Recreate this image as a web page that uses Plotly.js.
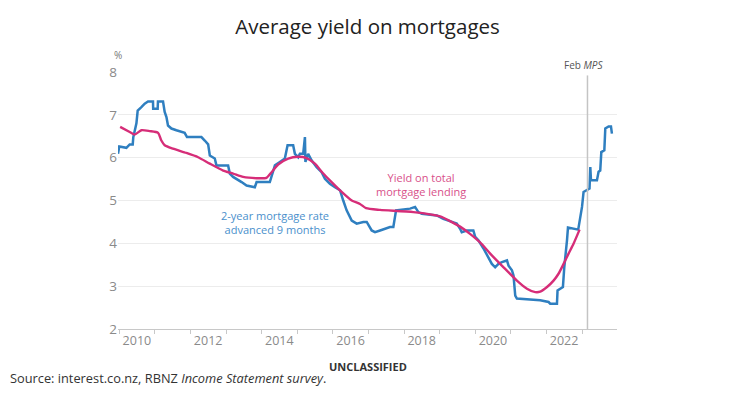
<!DOCTYPE html>
<html>
<head>
<meta charset="utf-8">
<script src="https://cdn.plot.ly/plotly-3.0.1.min.js"></script>
<style>
  html, body { margin: 0; padding: 0; background: #ffffff; }
  #chart { width: 739px; height: 397px; }
</style>
</head>
<body>
<div id="chart"></div>
<script>
// 2-year mortgage rate advanced 9 months (%)
const rateDates = ["2009-12-19","2010-01-01","2010-03-15","2010-04-18","2010-05-19","2010-05-25","2010-06-26","2010-07-09","2010-08-16","2010-09-19",
  "2010-10-23","2010-12-13","2010-12-15","2011-01-30","2011-02-02","2011-03-26","2011-04-12","2011-04-30","2011-05-16","2011-06-20",
  "2011-08-10","2011-11-03","2011-11-27","2012-04-23","2012-05-27","2012-07-01","2012-07-18","2012-09-07","2012-09-24","2013-01-22",
  "2013-02-08","2013-03-14","2013-06-09","2013-07-30","2013-10-23","2013-11-10","2014-03-26","2014-04-29","2014-05-17","2014-07-07",
  "2014-08-27","2014-09-24","2014-11-20","2014-12-08","2015-01-11","2015-01-28","2015-03-03","2015-03-21","2015-03-26","2015-04-23",
  "2015-05-28","2015-07-19","2015-09-08","2015-10-12","2015-12-02","2016-01-23","2016-03-15","2016-04-17","2016-05-22","2016-07-13",
  "2016-09-02","2016-11-09","2016-12-14","2017-02-03","2017-03-09","2017-04-30","2017-08-10","2017-09-13","2017-10-11","2018-03-04",
  "2018-04-24","2018-05-28","2018-07-02","2018-12-03","2019-02-08","2019-04-01","2019-06-26","2019-07-30","2019-08-16","2019-10-07",
  "2019-12-13","2020-01-01","2020-02-03","2020-03-26","2020-05-17","2020-06-20","2020-07-24","2020-08-27","2020-10-01","2020-11-22",
  "2020-12-08","2021-01-12","2021-01-28","2021-02-15","2021-03-04","2021-07-19","2021-10-29","2022-01-23","2022-02-09","2022-04-19",
  "2022-04-25","2022-06-19","2022-07-03","2022-07-31","2022-08-10","2022-11-23","2022-12-14","2023-01-01","2023-01-17","2023-02-21",
  "2023-03-19","2023-03-27","2023-04-03","2023-06-03","2023-06-20","2023-07-07","2023-07-18","2023-08-18","2023-08-28","2023-10-01",
  "2023-10-25","2023-11-04"];
const rateValues = [6.09,6.26,6.23,6.31,6.31,6.48,6.80,7.10,7.18,7.26,
  7.31,7.31,7.14,7.14,7.31,7.31,7.07,6.95,6.75,6.68,
  6.64,6.58,6.48,6.48,6.40,6.31,6.05,5.98,5.82,5.82,
  5.63,5.55,5.43,5.35,5.31,5.43,5.43,5.66,5.82,5.90,
  5.98,6.29,6.29,6.09,6.01,6.09,6.09,6.48,5.90,6.09,
  5.94,5.78,5.66,5.51,5.39,5.31,5.24,5.00,4.77,4.53,
  4.46,4.50,4.50,4.30,4.26,4.30,4.38,4.38,4.77,4.81,
  4.85,4.73,4.69,4.65,4.57,4.53,4.46,4.34,4.26,4.30,
  4.30,4.15,4.07,3.88,3.68,3.52,3.44,3.52,3.56,3.60,
  3.48,3.37,3.25,2.78,2.71,2.68,2.67,2.63,2.59,2.59,
  2.90,2.98,3.44,4.07,4.37,4.32,4.62,4.85,5.20,5.25,
  5.28,5.78,5.47,5.47,5.67,5.70,6.13,6.17,6.68,6.73,
  6.73,6.56];

// Yield on total mortgage lending (%)
const yieldDates = ["2010-01-10","2010-04-18","2010-06-08","2010-08-16","2010-11-09","2011-02-03","2011-03-09","2011-04-12","2011-07-06","2011-11-21",
  "2012-03-20","2012-07-18","2012-12-02","2013-03-14","2013-06-25","2013-11-10","2014-02-20","2014-04-13","2014-06-19","2014-09-30",
  "2015-01-11","2015-04-07","2015-07-01","2015-09-25","2015-12-20","2016-04-01","2016-07-13","2016-10-06","2016-12-07","2017-04-30",
  "2018-04-07","2019-01-06","2019-04-18","2019-07-30","2019-11-09","2020-02-20","2020-06-03","2020-10-18","2021-03-04","2021-06-15",
  "2021-09-08","2021-10-29","2022-01-07","2022-03-15","2022-05-05","2022-06-26","2022-08-16","2022-10-06","2022-12-07"];
const yieldValues = [6.72,6.60,6.54,6.64,6.62,6.58,6.40,6.29,6.21,6.11,
  6.01,5.86,5.70,5.63,5.55,5.52,5.53,5.66,5.84,5.98,
  6.02,5.99,5.86,5.63,5.43,5.20,5.00,4.92,4.82,4.78,
  4.73,4.63,4.52,4.39,4.22,4.02,3.76,3.44,3.13,2.94,
  2.86,2.87,2.98,3.13,3.29,3.52,3.76,3.99,4.32];

// x tick labels (centred in each labelled year)
const xTickVals = ["2010-07-01","2012-07-01","2014-07-01","2016-07-01","2018-07-01","2020-07-01","2022-07-01"];
const xTickText = ["2010","2012","2014","2016","2018","2020","2022"];
const yTickVals = [2,3,4,5,6,7,8];

const mpsDate = "2023-02-26";

const BLUE = "#2f7fc0";
const MAGENTA = "#d62d78";
const FONT = "Open Sans, Noto Sans, DejaVu Sans, sans-serif";

const traces = [
  { x: rateDates, y: rateValues, type: "scatter", mode: "lines",
    line: { color: BLUE, width: 2.5 }, hoverinfo: "skip", name: "2-year mortgage rate advanced 9 months" },
  { x: yieldDates, y: yieldValues, type: "scatter", mode: "lines",
    line: { color: MAGENTA, width: 2.4, shape: "spline", smoothing: 0.6 }, hoverinfo: "skip", name: "Yield on total mortgage lending" }
];

const layout = {
  width: 739, height: 397,
  margin: { l: 118, r: 122, t: 72, b: 68 },
  paper_bgcolor: "#ffffff", plot_bgcolor: "#ffffff",
  showlegend: false,
  font: { family: FONT, color: "#333" },
  title: { text: "Average yield on mortgages", x: 0.5, xref: "paper", xanchor: "center",
           y: 0.932, yref: "container", yanchor: "middle",
           font: { family: FONT, size: 20.5, color: "#222" } },
  xaxis: {
    type: "date",
    range: ["2009-12-19", "2023-12-26"],
    tickmode: "array", tickvals: xTickVals, ticktext: xTickText,
    ticks: "", showgrid: false, zeroline: false,
    showline: true, linecolor: "#c8c8c8", linewidth: 1,
    tickfont: { family: FONT, size: 12.5, color: "#8a8a8a" },
    minor: { dtick: "M12", tick0: "2010-01-01", ticks: "outside", ticklen: 4, tickcolor: "#c8c8c8", tickwidth: 1, showgrid: false },
    fixedrange: true
  },
  yaxis: {
    range: [2, 8], tickmode: "array", tickvals: yTickVals,
    showgrid: true, gridcolor: "#ececec", gridwidth: 1,
    zeroline: false, showline: false, ticks: "",
    tickfont: { family: FONT, size: 13.5, color: "#8a8a8a" },
    fixedrange: true
  },
  shapes: [
    { type: "line", xref: "x", yref: "y", x0: mpsDate, x1: mpsDate, y0: 2, y1: 7.92,
      line: { color: "#c4c4c4", width: 1.5 } }
  ],
  annotations: [
    { text: "%", xref: "paper", yref: "paper", x: 0, y: 1, xanchor: "center", yanchor: "bottom",
      yshift: 8, showarrow: false, font: { family: FONT, size: 10, color: "#777" } },
    { text: "Feb <i>MPS</i>", xref: "x", yref: "paper", x: mpsDate, y: 1, xanchor: "center", yanchor: "bottom",
      xshift: -3, yshift: -2, showarrow: false, font: { family: FONT, size: 10, color: "#555" } },
    { text: "Yield on total<br>mortgage lending", xref: "x", yref: "y", x: "2018-06-23", y: 5.38,
      xanchor: "center", yanchor: "middle", showarrow: false, align: "center",
      font: { family: FONT, size: 11, color: "#d8508a" } },
    { text: "2-year mortgage rate<br>advanced 9 months", xref: "x", yref: "y", x: "2014-05-22", y: 4.48,
      xanchor: "center", yanchor: "middle", showarrow: false, align: "center",
      font: { family: FONT, size: 11, color: "#4a90cc" } },
    { text: "<b>UNCLASSIFIED</b>", xref: "paper", yref: "paper", x: 0.5, y: 0, xanchor: "center", yanchor: "middle",
      yshift: -37, showarrow: false, font: { family: FONT, size: 11, color: "#333" } },
    { text: "Source: interest.co.nz, RBNZ <i>Income Statement survey</i>.", xref: "paper", yref: "paper",
      x: 0, y: 0, xanchor: "left", yanchor: "middle", xshift: -110, yshift: -49, showarrow: false,
      font: { family: FONT, size: 12.8, color: "#333" } }
  ]
};

Plotly.newPlot("chart", traces, layout, { displayModeBar: false, staticPlot: true });
</script>
</body>
</html>
